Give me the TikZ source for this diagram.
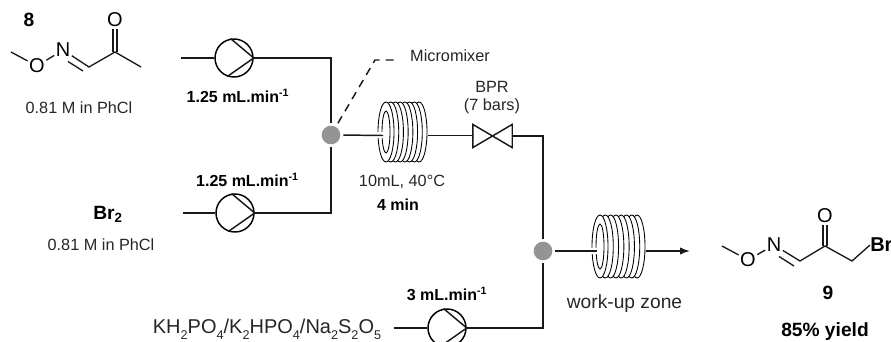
\documentclass[tikz,border=0pt]{standalone}
\usepackage{fontspec}
\setmainfont{Liberation Sans}
\usetikzlibrary{arrows.meta}
\definecolor{txt}{gray}{0.15}
\definecolor{mix}{gray}{0.58}
\newcommand{\sbs}[1]{\raisebox{-0.55ex}{\fontsize{9.5}{9.5}\selectfont #1}}
\tikzset{
  x=0.75pt,y=-0.75pt,
  lab/.style={text=txt,font=\fontsize{12.2}{14}\selectfont,inner sep=0pt},
  blab/.style={text=black,font=\fontsize{12}{14}\selectfont\bfseries,inner sep=0pt},
  atom/.style={text=black,font=\fontsize{15}{16}\selectfont,inner sep=1pt},
  pipe/.style={line width=1.1pt,black!90},
  bond/.style={line width=1pt,black!90},
  pumpnode/.style={circle,draw=black,line width=1.1pt,minimum size=28.5pt,inner sep=0pt},
  mixnode/.style={circle,fill=mix,minimum size=14pt,inner sep=0pt},
  valvenode/.style={minimum width=29.2pt,minimum height=17pt,inner sep=0pt},
  turn/.style={draw=black,fill=white,line width=0.65pt},
}
\newcommand{\pumpmark}[1]{\draw[pipe] (#1.100) -- (#1.east) -- (#1.250);}
\newcommand{\coil}[6]{% name, cx, cy, half width, half height, line y
  \foreach \k in {7,...,0}{
    \path[turn] ({#2-#4+8+\k*(2*#4-16)/7},#3) ellipse (8 and #5);
  }
  \path[turn] ({#2-#4+8},#3) ellipse (4 and #5-9);
  \fill[white] ({#2-#4-2},#6-3) rectangle ({#2-#4+6},#6+3);
  \coordinate (#1in) at ({#2-#4+5},#6);
  \coordinate (#1out) at ({#2+#4+1},#6);
}
\begin{document}
\begin{tikzpicture}
\useasboundingbox (0,0) rectangle (891,342);
\clip (0,0) rectangle (891,342);

% flow line nodes
\node[pumpnode] (p1) at (234,58) {};
\node[pumpnode] (p2) at (235,213) {};
\node[pumpnode] (p3) at (447,328) {};
\pumpmark{p1}\pumpmark{p2}\pumpmark{p3}
\node[mixnode] (m1) at (331,135) {};
\node[mixnode] (m2) at (543,251) {};
\node[valvenode] (v) at (492.5,136) {};
\draw[pipe] (v.north west) -- (v.south east) -- (v.north east) -- (v.south west) -- cycle;

\coil{ca}{402.5}{132}{24.5}{30}{135.5}
\coil{cb}{618.5}{246.5}{26.5}{31.5}{251}

\coordinate (s1) at (181,58);
\coordinate (s2) at (183,213);
\coordinate (s3) at (394,328);
\coordinate (c1) at (375,60);
\coordinate (c2) at (398,60);
\coordinate (end) at (690,251);

\draw[pipe] (s1) -- (p1.west);
\draw[pipe] (s2) -- (p2.west);
\draw[pipe] (s3) -- (p3.west);
\draw[pipe,shorten >=2pt] (p1.east) -| (m1.north);
\draw[pipe,shorten >=2pt] (p2.east) -| (m1.south);
\draw[pipe,shorten <=2pt] (m1.east) -- (cain);
\draw[pipe] (caout) -- (v.west |- caout);
\draw[pipe,shorten >=2pt] (v.east) -| (m2.north);
\draw[pipe,shorten >=2pt] (p3.east) -| (m2.south);
\draw[pipe,shorten <=2pt] (m2.east) -- (cbin);
\draw[pipe,-{Latex[length=7.5pt,width=5.5pt]}] (cbout) -- (end);
\draw[pipe,dash pattern=on 6pt off 4.5pt,shorten <=3pt] (m1) -- (c1) -- (c2);

% flow labels
\node[lab] (tmm) at (450,56) {Micromixer};
\node[lab] (tbpr) at (492,87) {BPR};
\node[lab] (tbar) at (492,106) {(7 bars)};
\node[lab] (tcoil) at (402,182) {10mL, 40°C};
\node[blab] (tmin) at (398,205) {4 min};
\node[lab,font=\fontsize{14.4}{16}\selectfont] (twork) at (624.5,304) {work-up zone};
\node[blab] (f1) at (238,96) {1.25 mL.min\textsuperscript{-1}};
\node[blab] (f2) at (247.5,180) {1.25 mL.min\textsuperscript{-1}};
\node[blab] (f3) at (447,294) {3 mL.min\textsuperscript{-1}};
\node[lab] (c8) at (79,108) {0.81 M in PhCl};
\node[lab] (cbr) at (101,245) {0.81 M in PhCl};
\node[blab,font=\fontsize{14.4}{16}\selectfont\bfseries] (br) at (108,214) {Br\textsubscript{2}};
\node[lab,font=\fontsize{15}{16}\selectfont] (salt) at (267,329) {KH\sbs{2}PO\sbs{4}/K\sbs{2}HPO\sbs{4}/Na\sbs{2}S\sbs{2}O\sbs{5}};
\node[blab,font=\fontsize{14.4}{14}\selectfont\bfseries] (n8) at (29,20) {8};
\node[blab,font=\fontsize{14.4}{14}\selectfont\bfseries] (n9) at (828,293) {9};
\node[blab,font=\fontsize{14.4}{16}\selectfont\bfseries] (yield) at (825,332) {85\% yield};

% compound 8
\node[atom] (ao) at (37,66) {O};
\node[atom] (an) at (63,50) {N};
\node[atom] (aoo) at (115,20) {O};
\coordinate (ame) at (11,52);
\coordinate (ac1) at (89,67);
\coordinate (ac2) at (115,52);
\coordinate (ame2) at (141,67);
\draw[bond] (ame) -- (ao);
\draw[bond] (ao) -- (an);
\draw[bond] (an) -- (ac1) -- (ac2) -- (ame2);
\draw[bond] (68,61.5) -- (83,71);
\draw[bond] ([xshift=-1.6pt]ac2) -- ([xshift=-1.6pt]aoo.south);
\draw[bond] ([xshift=1.6pt]ac2) -- ([xshift=1.6pt]aoo.south);

% compound 9
\node[atom] (bo) at (748,260) {O};
\node[atom] (bn) at (774,245) {N};
\node[atom] (boo) at (825,216) {O};
\node[atom,anchor=west,inner sep=0pt] (bbr) at (870,245) {\textbf{Br}};
\coordinate (bme) at (722,246);
\coordinate (bc1) at (800,261);
\coordinate (bc2) at (825,246);
\coordinate (bc3) at (852,261);
\draw[bond] (bme) -- (bo);
\draw[bond] (bo) -- (bn);
\draw[bond] (bn) -- (bc1) -- (bc2) -- (bc3) -- (bbr.west);
\draw[bond] (779,256.5) -- (794,266);
\draw[bond] ([xshift=-1.6pt]bc2) -- ([xshift=-1.6pt]boo.south);
\draw[bond] ([xshift=1.6pt]bc2) -- ([xshift=1.6pt]boo.south);
\end{tikzpicture}
\end{document}
